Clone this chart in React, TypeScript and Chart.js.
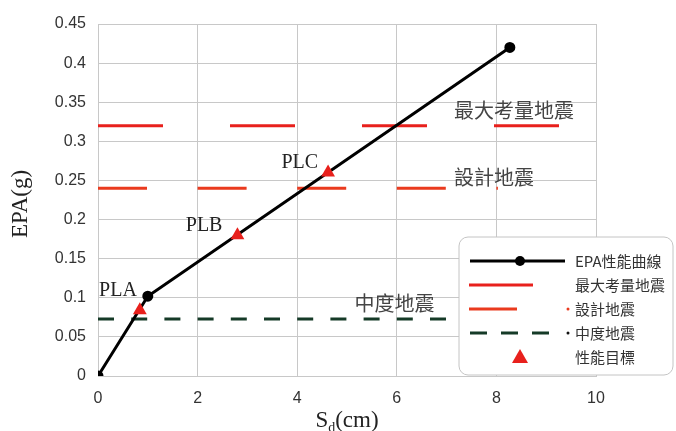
import React, { useEffect, useRef } from "react";
import { Chart, registerables } from "chart.js";

Chart.register(...registerables);

// ---- data ----
const curveX = [0, 1.0, 8.27];
const curveY = [0, 0.102, 0.42];

const targetNames = ["PLA", "PLB", "PLC"];
const targetX = [0.84, 2.8, 4.62];
const targetY = [0.084, 0.18, 0.26];

const mceLevel = 0.32; // 最大考量地震
const mceRange = [0, 10];
const dbeLevel = 0.24; // 設計地震
const dbeRange = [0, 8.03];
const moderateLevel = 0.073; // 中度地震
const moderateRange = [0, 10];

const xTicks = [0, 2, 4, 6, 8, 10];
const yTicks = [0, 0.05, 0.1, 0.15, 0.2, 0.25, 0.3, 0.35, 0.4, 0.45];

const legendLabels = ["EPA性能曲線", "最大考量地震", "設計地震", "中度地震", "性能目標"];
const levelLabels = ["最大考量地震", "設計地震", "中度地震"];

const RED = "#e8201c";
const RED2 = "#ea3a1e";
const GREEN = "#153a27";
const CJK = '"Noto Sans CJK TC", "Noto Sans CJK SC", sans-serif';
const SERIF = '"Liberation Serif", "DejaVu Serif", serif';
const SANS = '"Liberation Sans", Arial, sans-serif';

// label offsets (px) relative to each target marker
const labelOffsets = [
  [-3, -20],
  [-15, -9],
  [-10, -10],
];

const overlayPlugin = {
  id: "overlay",
  afterDatasetsDraw(chart: any) {
    const ctx = chart.ctx;
    const xs = chart.scales.x;
    const ys = chart.scales.y;
    ctx.save();
    // level labels
    ctx.fillStyle = "#444";
    ctx.font = `20px ${CJK}`;
    ctx.textBaseline = "middle";
    ctx.textAlign = "left";
    ctx.fillText(levelLabels[0], xs.getPixelForValue(7.15), ys.getPixelForValue(mceLevel) - 15);
    ctx.fillText(levelLabels[1], xs.getPixelForValue(7.15), ys.getPixelForValue(dbeLevel) - 11);
    ctx.fillText(levelLabels[2], xs.getPixelForValue(5.15), ys.getPixelForValue(moderateLevel) - 15);
    // target labels
    ctx.fillStyle = "#222";
    ctx.font = `20px ${SERIF}`;
    ctx.textAlign = "right";
    for (let i = 0; i < targetNames.length; i++) {
      const px = xs.getPixelForValue(targetX[i]);
      const py = ys.getPixelForValue(targetY[i]);
      ctx.fillText(targetNames[i], px + labelOffsets[i][0], py + labelOffsets[i][1]);
    }
    ctx.restore();
  },
  afterDraw(chart: any) {
    const ctx = chart.ctx;
    const area = chart.chartArea;
    ctx.save();
    // axis titles
    ctx.fillStyle = "#222";
    ctx.textBaseline = "middle";
    ctx.save();
    ctx.font = `23px ${SERIF}`;
    ctx.translate(21, (area.top + area.bottom) / 2 + 4);
    ctx.rotate(-Math.PI / 2);
    ctx.textAlign = "center";
    ctx.fillText("EPA(g)", 0, 0);
    ctx.restore();

    const cx = (area.left + area.right) / 2;
    const ty = 421;
    ctx.font = `23px ${SERIF}`;
    const wS = ctx.measureText("S").width;
    ctx.font = `14px ${SERIF}`;
    const wd = ctx.measureText("d").width;
    ctx.font = `23px ${SERIF}`;
    const wr = ctx.measureText("(cm)").width;
    const x0 = cx - (wS + wd + wr) / 2;
    ctx.textAlign = "left";
    ctx.fillText("S", x0, ty);
    ctx.font = `14px ${SERIF}`;
    ctx.fillText("d", x0 + wS, ty + 7);
    ctx.font = `23px ${SERIF}`;
    ctx.fillText("(cm)", x0 + wS + wd, ty);

    // legend
    const bx = 459, by = 237, bw = 214, bh = 138;
    ctx.beginPath();
    ctx.roundRect(bx, by, bw, bh, 9);
    ctx.fillStyle = "#ffffff";
    ctx.fill();
    ctx.strokeStyle = "#c4c4c4";
    ctx.lineWidth = 1;
    ctx.stroke();

    const rows = [261, 285, 309, 333, 357];
    const tx = 575;
    ctx.lineCap = "butt";
    // row 1
    ctx.strokeStyle = "#000";
    ctx.lineWidth = 3;
    ctx.beginPath();
    ctx.moveTo(470, rows[0]);
    ctx.lineTo(565, rows[0]);
    ctx.stroke();
    ctx.fillStyle = "#000";
    ctx.beginPath();
    ctx.arc(520, rows[0], 5, 0, Math.PI * 2);
    ctx.fill();
    // row 2
    ctx.strokeStyle = RED;
    ctx.beginPath();
    ctx.moveTo(469, rows[1]);
    ctx.lineTo(533, rows[1]);
    ctx.stroke();
    // row 3
    ctx.strokeStyle = RED2;
    ctx.beginPath();
    ctx.moveTo(469, rows[2]);
    ctx.lineTo(517, rows[2]);
    ctx.stroke();
    ctx.fillStyle = RED2;
    ctx.beginPath();
    ctx.arc(568, rows[2], 1.5, 0, Math.PI * 2);
    ctx.fill();
    // row 4
    ctx.strokeStyle = GREEN;
    ctx.setLineDash([17, 14]);
    ctx.beginPath();
    ctx.moveTo(470, rows[3]);
    ctx.lineTo(550, rows[3]);
    ctx.stroke();
    ctx.setLineDash([]);
    ctx.fillStyle = "#111";
    ctx.beginPath();
    ctx.arc(568, rows[3], 1.5, 0, Math.PI * 2);
    ctx.fill();
    // row 5 triangle
    ctx.fillStyle = RED;
    ctx.beginPath();
    ctx.moveTo(520, rows[4] - 8);
    ctx.lineTo(528, rows[4] + 6);
    ctx.lineTo(512, rows[4] + 6);
    ctx.closePath();
    ctx.fill();

    ctx.fillStyle = "#333";
    ctx.font = `15px ${CJK}`;
    ctx.textAlign = "left";
    ctx.textBaseline = "middle";
    legendLabels.forEach((l, i) => ctx.fillText(l, tx, rows[i]));
    ctx.restore();
  },
};

export default function App() {
  const ref = useRef<HTMLCanvasElement>(null);
  useEffect(() => {
    const pts = (xs: number[], ys: number[]) => xs.map((x, i) => ({ x, y: ys[i] }));
    const chart = new Chart(ref.current!, {
      type: "scatter",
      data: {
        datasets: [
          {
            label: "性能目標",
            data: pts(targetX, targetY),
            showLine: false,
            pointStyle: "triangle",
            pointRadius: 8,
            backgroundColor: RED,
            borderColor: RED,
            borderWidth: 0,
            order: 0,
          },
          {
            label: "EPA性能曲線",
            data: pts(curveX, curveY),
            showLine: true,
            borderColor: "#000",
            backgroundColor: "#000",
            borderWidth: 3,
            pointRadius: 4,
            order: 1,
          },
          {
            label: "最大考量地震",
            data: pts(mceRange, [mceLevel, mceLevel]),
            showLine: true,
            borderColor: RED,
            borderWidth: 3,
            borderDash: [65, 67],
            pointRadius: 0,
            order: 2,
          },
          {
            label: "設計地震",
            data: pts(dbeRange, [dbeLevel, dbeLevel]),
            showLine: true,
            borderColor: RED2,
            borderWidth: 3,
            borderDash: [49, 50.6],
            pointRadius: 0,
            order: 3,
          },
          {
            label: "中度地震",
            data: pts(moderateRange, [moderateLevel, moderateLevel]),
            showLine: true,
            borderColor: GREEN,
            borderWidth: 3,
            borderDash: [16, 17.2],
            pointRadius: 0,
            order: 4,
          },
        ],
      },
      options: {
        responsive: false,
        animation: false,
        layout: { padding: { top: 24, right: 80, left: 0, bottom: 0 } },
        plugins: { legend: { display: false }, tooltip: { enabled: false } },
        scales: {
          x: {
            type: "linear",
            min: 0,
            max: 10,
            afterBuildTicks: (s: any) => {
              s.ticks = xTicks.map((v) => ({ value: v }));
            },
            afterFit: (s: any) => {
              s.height = 55;
            },
            grid: { color: "#c8c8c8", lineWidth: 1, drawTicks: false },
            border: { color: "#c8c8c8" },
            ticks: {
              padding: 13,
              color: "#333",
              font: { family: SANS, size: 16 },
              callback: (v: any) => String(v),
            },
          },
          y: {
            type: "linear",
            min: 0,
            max: 0.45,
            afterBuildTicks: (s: any) => {
              s.ticks = yTicks.map((v) => ({ value: v }));
            },
            afterFit: (s: any) => {
              s.width = 98;
            },
            grid: { color: "#c8c8c8", lineWidth: 1, drawTicks: false },
            border: { color: "#c8c8c8" },
            ticks: {
              padding: 12,
              color: "#333",
              font: { family: SANS, size: 16 },
              callback: (v: any) => String(Math.round(v * 100) / 100),
            },
          },
        },
      },
      plugins: [overlayPlugin],
    } as any);
    return () => chart.destroy();
  }, []);
  return (
    <div style={{ position: "fixed", left: 0, top: 0, width: 676, height: 431, background: "#fff" }}>
      <canvas ref={ref} width={676} height={431} />
    </div>
  );
}
